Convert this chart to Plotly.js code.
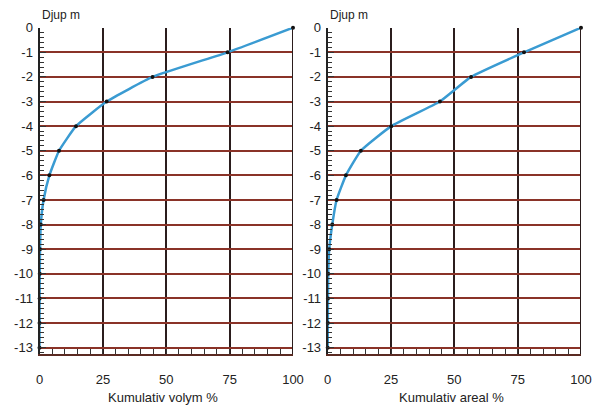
<!DOCTYPE html>
<html>
<head>
<meta charset="utf-8">
<script src="https://cdn.plot.ly/plotly-3.0.1.min.js"></script>
<style>html,body{margin:0;padding:0;background:#fff;}#chart{width:612px;height:414px;}</style>
</head>
<body>
<div id="chart"></div>
<script>
// Depth levels (m)
const depth = [0, -1, -2, -3, -4, -5, -6, -7, -8, -9, -10, -11, -12, -13];
// Cumulative volume % per depth
const volym = [100, 74.2, 44.6, 26.5, 14.4, 7.7, 3.9, 1.6, 0.5, 0.2, 0.1, 0.05, 0.02, 0];
// Cumulative area % per depth
const areal = [100, 77.5, 56.6, 44.3, 25.1, 13.1, 7.2, 3.5, 1.8, 0.6, 0.2, 0.1, 0.05, 0];
const xTicks = [0, 25, 50, 75, 100];
const yTicks = [0, -1, -2, -3, -4, -5, -6, -7, -8, -9, -10, -11, -12, -13];
const yTitle = 'Djup m';
const xTitleL = 'Kumulativ volym %';
const xTitleR = 'Kumulativ areal %';

const font = 'Liberation Sans, Arial, sans-serif';
const lineColor = '#3a9bd2';

function trace(x, xa, ya) {
  return {
    x: x, y: depth, xaxis: xa, yaxis: ya, type: 'scatter', mode: 'lines+markers',
    line: {color: lineColor, width: 2.5, shape: 'spline', smoothing: 0.4},
    marker: {color: '#111', size: 4},
    cliponaxis: false, showlegend: false, hoverinfo: 'skip'
  };
}

function xax(domain, anchor) {
  return {
    domain: domain, anchor: anchor, range: [0, 100],
    tickvals: xTicks, ticktext: xTicks.map(String),
    ticks: 'inside', ticklen: 0, ticklabelstandoff: 12,
    minor: {dtick: 5, ticks: 'inside', ticklen: 5, tickcolor: '#333', showgrid: false},
    showgrid: true, gridcolor: '#2b1d1d', gridwidth: 2,
    showline: true, linecolor: '#5a2a22', linewidth: 2, mirror: false,
    zeroline: false, tickfont: {family: font, size: 13, color: '#222'},
    fixedrange: true
  };
}
function yax(domain, anchor) {
  return {
    domain: domain, anchor: anchor, range: [-13.27, 0],
    tickvals: yTicks, ticktext: yTicks.map(String),
    ticks: 'inside', ticklen: 6, tickcolor: '#333', ticklabelstandoff: 2,
    minor: {dtick: 0.2, ticks: 'inside', ticklen: 4, tickcolor: '#333', showgrid: false},
    showgrid: true, gridcolor: '#8a3328', gridwidth: 2,
    showline: true, linecolor: '#222', linewidth: 2,
    zeroline: false, tickfont: {family: font, size: 13, color: '#222'},
    fixedrange: true
  };
}

const yDom = [1 - 354.3 / 414, 1 - 27.7 / 414];
const xDomL = [39.5 / 612, 293 / 612];
const xDomR = [327.7 / 612, 581 / 612];

const layout = {
  width: 612, height: 414,
  margin: {l: 0, r: 0, t: 0, b: 0},
  paper_bgcolor: '#fff', plot_bgcolor: '#fff',
  font: {family: font, color: '#222'},
  xaxis: xax(xDomL, 'y'),
  yaxis: yax(yDom, 'x'),
  xaxis2: xax(xDomR, 'y2'),
  yaxis2: yax(yDom, 'x2'),
  shapes: [
    {type: 'line', xref: 'x', yref: 'y', x0: 100, x1: 100, y0: -13.27, y1: 0, line: {color: '#2b1d1d', width: 2}},
    {type: 'line', xref: 'x2', yref: 'y2', x0: 100, x1: 100, y0: -13.27, y1: 0, line: {color: '#2b1d1d', width: 2}}
  ],
  annotations: [
    {text: yTitle, xref: 'paper', yref: 'paper', x: 40 / 612, y: 1 - 15 / 414, xanchor: 'left', yanchor: 'middle', showarrow: false, font: {family: font, size: 12, color: '#222'}},
    {text: yTitle, xref: 'paper', yref: 'paper', x: 328 / 612, y: 1 - 15 / 414, xanchor: 'left', yanchor: 'middle', showarrow: false, font: {family: font, size: 12, color: '#222'}},
    {text: xTitleL, xref: 'paper', yref: 'paper', x: 163 / 612, y: 1 - 397 / 414, xanchor: 'center', yanchor: 'middle', showarrow: false, font: {family: font, size: 13, color: '#222'}},
    {text: xTitleR, xref: 'paper', yref: 'paper', x: 451 / 612, y: 1 - 397 / 414, xanchor: 'center', yanchor: 'middle', showarrow: false, font: {family: font, size: 13, color: '#222'}}
  ]
};

Plotly.newPlot('chart', [trace(volym, 'x', 'y'), trace(areal, 'x2', 'y2')], layout, {staticPlot: true, displayModeBar: false});
</script>
</body>
</html>
